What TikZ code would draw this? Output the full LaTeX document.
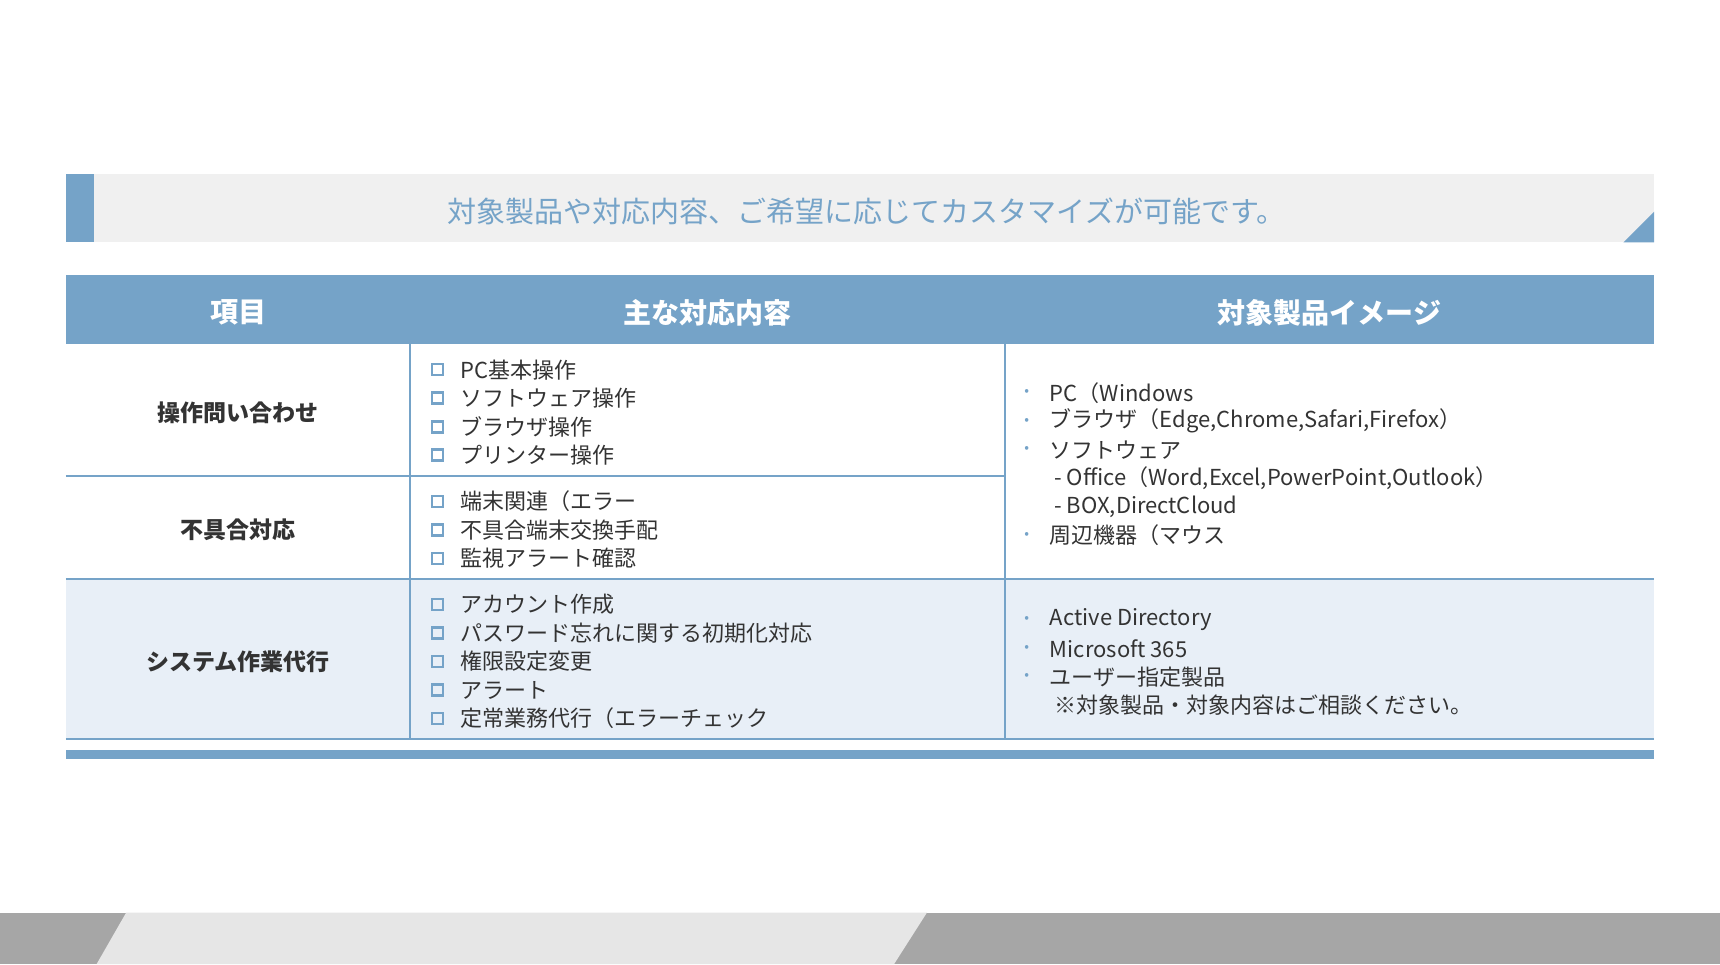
\documentclass[tikz,border=0pt]{standalone}
\usepackage{fontspec}
\setmainfont{Noto Sans CJK JP}
\newfontfamily\jpb[BoldFont={Noto Sans CJK JP Bold}]{Noto Sans CJK JP Medium}
\definecolor{tblue}{HTML}{75A3C8}
\definecolor{ttext}{HTML}{333333}
\definecolor{lbg}{HTML}{E8EFF7}
\definecolor{bgray}{HTML}{F0F0F0}
\definecolor{dgray}{HTML}{A6A6A6}
\definecolor{lgray}{HTML}{E6E6E6}
\tikzset{
 body/.style={anchor=west,inner sep=0pt,font=\fontsize{22}{24}\selectfont,text=ttext},
 rowlab/.style={inner sep=0pt,font=\fontsize{23}{24}\selectfont\bfseries,text=ttext},
 head/.style={inner sep=0pt,font=\fontsize{28}{30}\selectfont\bfseries,text=white},
 chk/.style={draw=tblue,line width=2.6pt,minimum size=11pt,inner sep=0pt},
 bul/.style={inner sep=0pt,text=tblue,font=\fontsize{14}{14}\selectfont},
 grid/.style={draw=tblue,line width=2pt}
}
\begin{document}
\begin{tikzpicture}[x=1.097pt,y=-1.097pt]
\useasboundingbox (0,0) rectangle (1568,879);
\fill[white] (0,0) rectangle (1568,879);
% banner
\fill[bgray] (60,159) rectangle (1508,221);
\fill[tblue] (60,159) rectangle (86,221);
\fill[tblue] (1480,221) -- (1508,221) -- (1508,193) -- cycle;
\node[inner sep=0pt,text=tblue,font=\fontsize{29}{30}\selectfont] (ban) at (790,193) {対象製品や対応内容、ご希望に応じてカスタマイズが可能です。};
% table
\fill[tblue] (60,251) rectangle (1508,314);
\fill[lbg] (60,528) rectangle (1508,674);
\fill[tblue] (60,684) rectangle (1508,692);
\draw[grid] (60,434) -- (916,434);
\draw[grid] (60,528) -- (1508,528);
\draw[grid] (60,674) -- (1508,674);
\draw[grid] (374,314) -- (374,674);
\draw[grid] (916,314) -- (916,674);
\node[head] (h1) at (217,285) {項目};
\node[head] (h2) at (645,285) {主な対応内容};
\node[head] (h3) at (1212,285) {対象製品イメージ};
\node[rowlab] (r1) at (217,376) {操作問い合わせ};
\node[rowlab] (r2) at (217,483) {不具合対応};
\node[rowlab] (r3) at (217,603) {システム作業代行};
% column 2
\foreach \y/\t [count=\i] in {337/PC基本操作,363/ソフトウェア操作,389/ブラウザ操作,415/プリンター操作,
 457/端末関連（エラー/電源が入らない等）,483/不具合端末交換手配,509/監視アラート確認,
 551/アカウント作成/変更/削除,577/パスワード忘れに関する初期化対応,603/権限設定変更,629/アラート/依頼による再起動対応,655/定常業務代行（エラーチェック/抽出作業等）}{
 \node[chk] (c\i) at (399,\y) {};
 \node[body] (t\i) at (420,\y) {\t};
}
% column 3
\foreach \y/\t [count=\i] in {358/PC（Windows/Mac）,384/ブラウザ（Edge{,}Chrome{,}Safari{,}Firefox）,410/ソフトウェア,488/周辺機器（マウス/キーボード/カメラ/複合機等）,565/Active Directory,591/Microsoft 365,617/ユーザー指定製品}{
 \node[bul] (b\i) at (936,\y) {•};
 \node[body] (u\i) at (957,\y) {\t};
}
\node[body] (s1) at (961,436) {- Office（Word,Excel,PowerPoint,Outlook）};
\node[body] (s2) at (961,462) {- BOX,DirectCloud};
\node[body] (s3) at (961,643) {※対象製品・対象内容はご相談ください。};
% footer
\fill[dgray] (0,832) rectangle (1568,879);
\fill[lgray] (115,832) -- (845,832) -- (815,879) -- (88,879) -- cycle;
\end{tikzpicture}
\end{document}
